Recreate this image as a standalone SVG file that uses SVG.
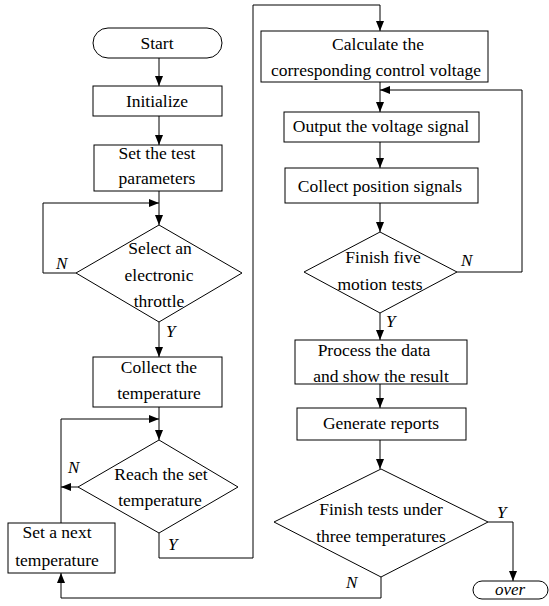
<svg xmlns="http://www.w3.org/2000/svg" width="549" height="606" viewBox="0 0 549 606" font-family="Liberation Serif, Times New Roman, serif">
<style>
.n{fill:#fff;stroke:#000;stroke-width:1}
text{font-family:Liberation Serif, Times New Roman, serif}
.t{font-size:17.5px;fill:#000;text-anchor:middle}
.i{font-size:17px;font-style:italic;fill:#000}
.c{fill:none;stroke:#000;stroke-width:1}
</style>
<defs>
<marker id="a" markerUnits="userSpaceOnUse" markerWidth="10" markerHeight="8" refX="10" refY="4" orient="auto">
<path d="M0,0 L10,4 L0,8 z" fill="#000"/>
</marker>
</defs>
<rect width="549" height="606" fill="#fff"/>
<g id="connectors">
<path class="c" d="M159,58 V86" marker-end="url(#a)"/>
<path class="c" d="M159,116 V145" marker-end="url(#a)"/>
<path class="c" d="M159,191 V225" marker-end="url(#a)"/>
<path class="c" d="M76,273 H43 V203 H159" marker-end="url(#a)"/>
<path class="c" d="M159,322 V357" marker-end="url(#a)"/>
<path class="c" d="M159,407 V440" marker-end="url(#a)"/>
<path class="c" d="M78,487 H61" marker-end="url(#a)"/>
<path class="c" d="M61,523 V419 H159" marker-end="url(#a)"/>
<path class="c" d="M159,533 V558 H253 V5 H380 V31" marker-end="url(#a)"/>
<path class="c" d="M380,82 V112" marker-end="url(#a)"/>
<path class="c" d="M380,142 V168" marker-end="url(#a)"/>
<path class="c" d="M380,203 V232" marker-end="url(#a)"/>
<path class="c" d="M457,272 H522 V90 H380" marker-end="url(#a)"/>
<path class="c" d="M380,313 V340" marker-end="url(#a)"/>
<path class="c" d="M380,384 V408" marker-end="url(#a)"/>
<path class="c" d="M380,440 V469" marker-end="url(#a)"/>
<path class="c" d="M488,522 H513 V581" marker-end="url(#a)"/>
<path class="c" d="M381,577 V598 H61 V573" marker-end="url(#a)"/>
<text class="i" x="56" y="269">N</text>
<text class="i" x="166" y="337">Y</text>
<text class="i" x="68" y="473">N</text>
<text class="i" x="168" y="550">Y</text>
<text class="i" x="461" y="266">N</text>
<text class="i" x="386" y="327">Y</text>
<text class="i" x="497" y="518">Y</text>
<text class="i" x="346" y="588">N</text>
</g>
<g id="start">
<rect class="n" x="93" y="28" width="129" height="30" rx="15"/>
<text class="t" x="157" y="49">Start</text>
</g>
<g id="initialize">
<rect class="n" x="93" y="86" width="129" height="30"/>
<text class="t" x="157" y="107">Initialize</text>
</g>
<g id="set-params">
<rect class="n" x="94" y="145" width="128" height="46"/>
<text class="t" x="157" y="159">Set the test</text>
<text class="t" x="157" y="184">parameters</text>
</g>
<g id="select-throttle">
<polygon class="n" points="159,225 242,273 159,322 76,273"/>
<text class="t" x="160" y="254">Select an</text>
<text class="t" x="159" y="281">electronic</text>
<text class="t" x="159" y="307">throttle</text>
</g>
<g id="collect-temp">
<rect class="n" x="93" y="357" width="129" height="50"/>
<text class="t" x="159" y="373">Collect the</text>
<text class="t" x="159" y="399">temperature</text>
</g>
<g id="reach-temp">
<polygon class="n" points="159,440 238,487 159,533 78,487"/>
<text class="t" x="161" y="480">Reach the set</text>
<text class="t" x="160" y="506">temperature</text>
</g>
<g id="set-next">
<rect class="n" x="8" y="523" width="107" height="50"/>
<text class="t" x="57" y="538">Set a next</text>
<text class="t" x="57" y="566">temperature</text>
</g>
<g id="calculate">
<rect class="n" x="261" y="31" width="227" height="51"/>
<text class="t" x="378" y="50">Calculate the</text>
<text class="t" x="376" y="76">corresponding control voltage</text>
</g>
<g id="output-voltage">
<rect class="n" x="284" y="112" width="195" height="30"/>
<text class="t" x="381" y="132">Output the voltage signal</text>
</g>
<g id="collect-position">
<rect class="n" x="285" y="168" width="193" height="35"/>
<text class="t" x="380" y="192">Collect position signals</text>
</g>
<g id="finish-five">
<polygon class="n" points="380,232 457,272 380,313 304,272"/>
<text class="t" x="383" y="263">Finish five</text>
<text class="t" x="380" y="290">motion tests</text>
</g>
<g id="process-data">
<rect class="n" x="295" y="340" width="172" height="44"/>
<text class="t" x="374" y="356">Process the data</text>
<text class="t" x="381" y="382">and show the result</text>
</g>
<g id="generate-reports">
<rect class="n" x="297" y="408" width="169" height="32"/>
<text class="t" x="381" y="429">Generate reports</text>
</g>
<g id="finish-tests">
<polygon class="n" points="381,469 488,522 381,577 274,522"/>
<text class="t" x="381" y="515">Finish tests under</text>
<text class="t" x="381" y="542">three temperatures</text>
</g>
<g id="over">
<rect class="n" x="473" y="581" width="75" height="18" rx="9"/>
<text class="i" x="510" y="595" text-anchor="middle">over</text>
</g>
</svg>
